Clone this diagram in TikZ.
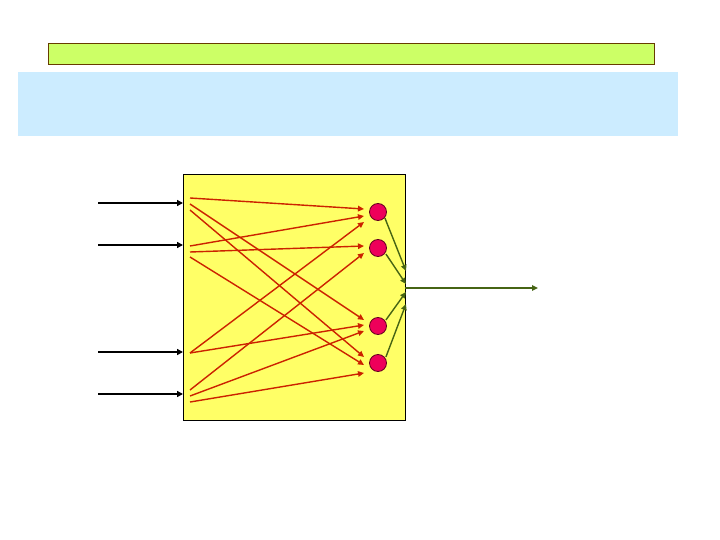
\documentclass[tikz,border=0pt]{standalone}
\usetikzlibrary{arrows.meta}
\definecolor{barfill}{RGB}{204,255,102}
\definecolor{barline}{RGB}{102,60,0}
\definecolor{bandfill}{RGB}{204,236,255}
\definecolor{boxfill}{RGB}{255,255,102}
\definecolor{redline}{RGB}{204,34,0}
\definecolor{nodefill}{RGB}{238,0,90}
\definecolor{nodeline}{RGB}{100,0,30}
\definecolor{greenline}{RGB}{70,100,20}
\tikzset{
  inarrow/.style={draw=black,line width=2pt,-{Triangle[length=6pt,width=6pt]}},
  redarrow/.style={draw=redline,line width=1.4pt,-{Triangle[length=6pt,width=5.5pt]}},
  greenarrow/.style={draw=greenline,line width=1.4pt,-{Triangle[length=6pt,width=5.5pt]}},
  hidden/.style={circle,fill=nodefill,draw=nodeline,line width=0.8pt,minimum size=17pt,inner sep=0pt}
}
\begin{document}
\begin{tikzpicture}[x=1pt,y=-1pt]
\useasboundingbox (0,0) rectangle (720,540);
% top bar and band
\node[draw=barline,line width=1pt,fill=barfill,minimum width=606pt,minimum height=21pt,inner sep=0pt,anchor=north west] (bar) at (48,43) {};
\node[fill=bandfill,minimum width=660pt,minimum height=64pt,inner sep=0pt,anchor=north west] (band) at (18,72) {};
% yellow box
\node[draw=black,line width=1pt,fill=boxfill,minimum width=222pt,minimum height=246pt,inner sep=0pt,anchor=north west] (box) at (183,174) {};
% hidden nodes
\node[hidden] (h1) at (378,212) {};
\node[hidden] (h2) at (378,248) {};
\node[hidden] (h3) at (378,326) {};
\node[hidden] (h4) at (378,363) {};
% inputs
\coordinate (i1) at (98,203); \coordinate (e1) at (183,203);
\coordinate (i2) at (98,245); \coordinate (e2) at (183,245);
\coordinate (i3) at (98,352); \coordinate (e3) at (183,352);
\coordinate (i4) at (98,394); \coordinate (e4) at (183,394);
\foreach \k in {1,2,3,4} {\draw[inarrow] (i\k) -- (e\k);}
% start points
\coordinate (a1) at (190,198); \coordinate (a2) at (190,204); \coordinate (a3) at (190,210);
\coordinate (b1) at (190,246); \coordinate (b2) at (190,252); \coordinate (b3) at (190,257);
\coordinate (c1) at (190,353);
\coordinate (d1) at (190,390); \coordinate (d2) at (190,396); \coordinate (d3) at (190,402);
% end points
\coordinate (t11) at (364,209); \coordinate (t12) at (364,216); \coordinate (t13) at (364,222);
\coordinate (t21) at (364,246); \coordinate (t22) at (364,253);
\coordinate (t31) at (364,320); \coordinate (t32) at (364,325); \coordinate (t33) at (364,331);
\coordinate (t41) at (364,357); \coordinate (t42) at (364,365); \coordinate (t43) at (364,373);
\draw[redarrow] (a1) -- (t11);
\draw[redarrow] (b1) -- (t12);
\draw[redarrow] (c1) -- (t13);
\draw[redarrow] (b2) -- (t21);
\draw[redarrow] (d1) -- (t22);
\draw[redarrow] (a2) -- (t31);
\draw[redarrow] (c1) -- (t32);
\draw[redarrow] (d2) -- (t33);
\draw[redarrow] (a3) -- (t41);
\draw[redarrow] (b3) -- (t42);
\draw[redarrow] (d3) -- (t43);
% green connections
\coordinate (g1) at (406,271); \coordinate (g2) at (406,284);
\coordinate (g3) at (406,292); \coordinate (g4) at (406,304);
\coordinate (o0) at (405,288); \coordinate (out) at (538,288);
\draw[greenarrow] (h1.east) ++(-2,6) coordinate (s1) -- (g1);
\draw[greenarrow] (h2.east) ++(-1,6) coordinate (s2) -- (g2);
\draw[greenarrow] (h3.east) ++(-1,-6) coordinate (s3) -- (g3);
\draw[greenarrow] (h4.east) ++(-1,-6) coordinate (s4) -- (g4);
\draw[greenarrow] (o0) -- (out);
\end{tikzpicture}
\end{document}
